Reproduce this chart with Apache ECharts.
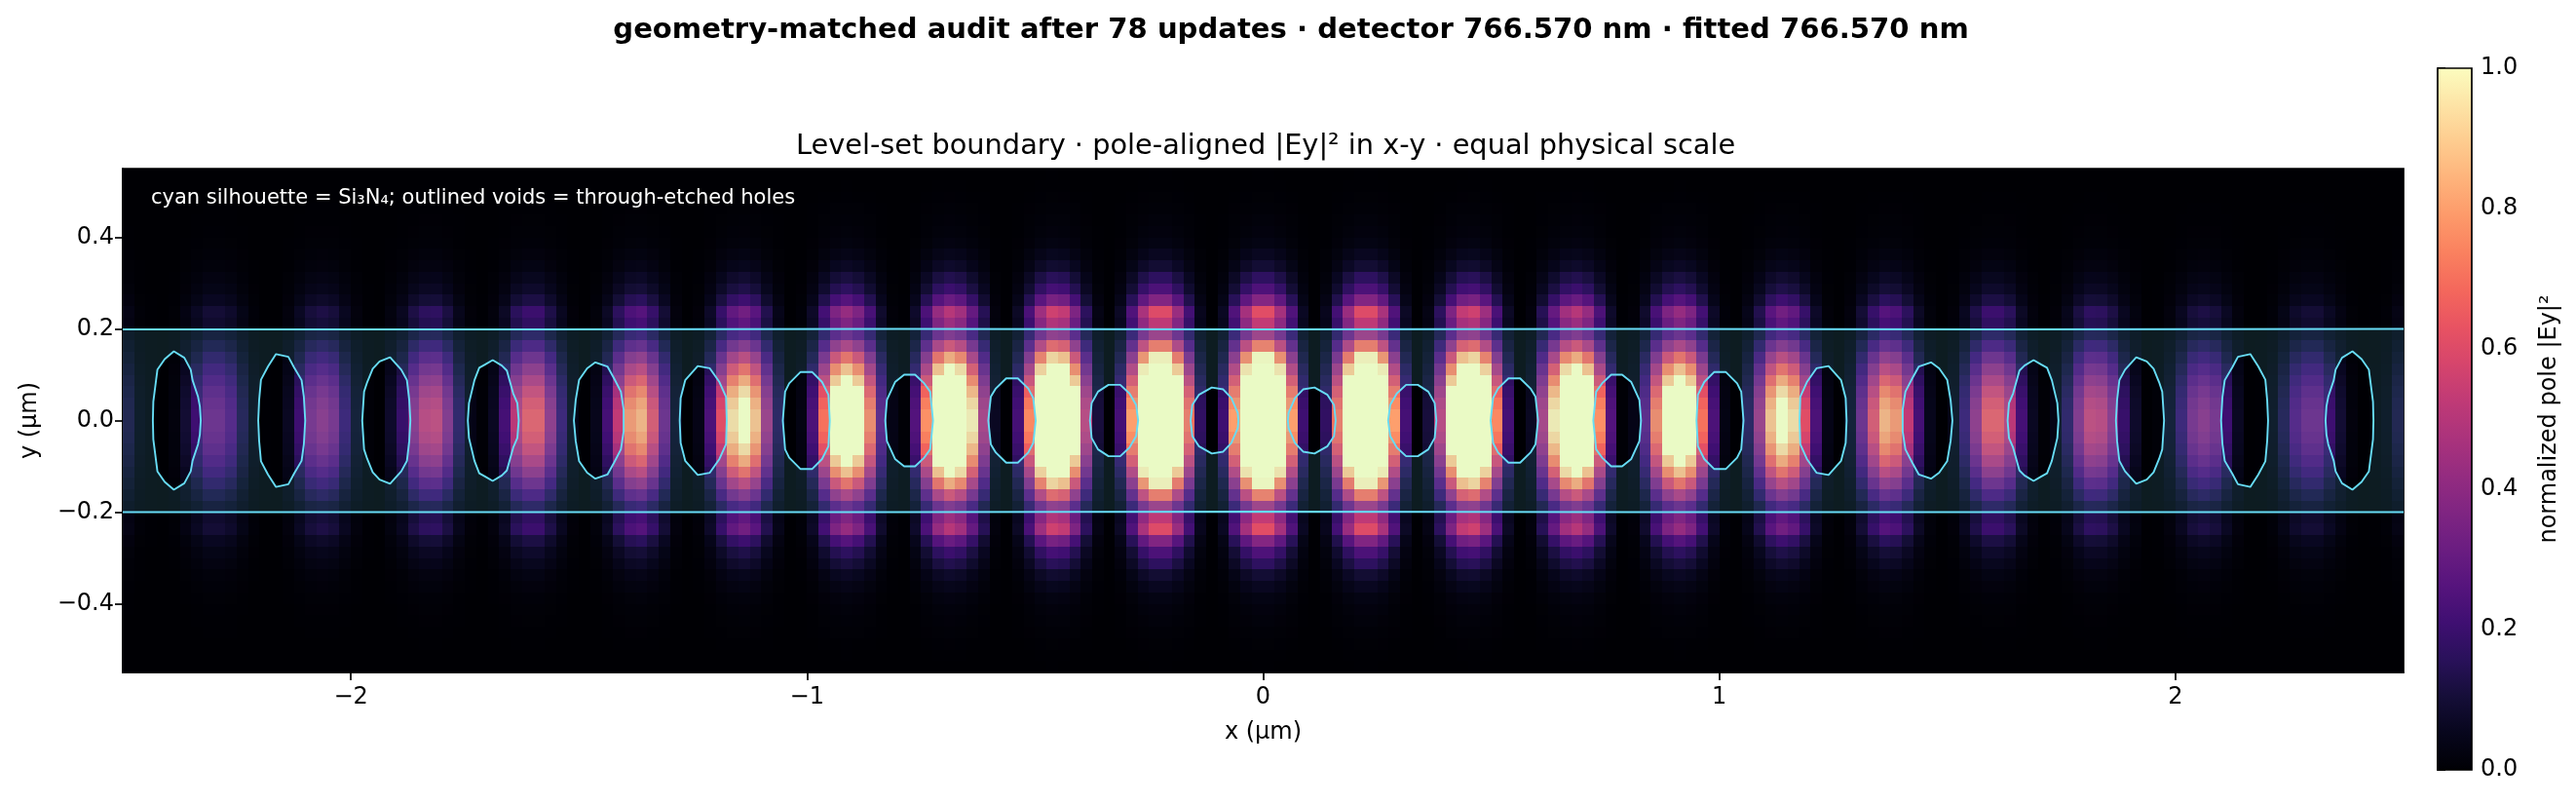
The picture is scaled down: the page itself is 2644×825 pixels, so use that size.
<!DOCTYPE html>
<html>
<head>
<meta charset="utf-8">
<style>html,body{margin:0;padding:0;background:#fff}#c{width:2644px;height:825px}</style>
<script src="https://cdn.jsdelivr.net/npm/echarts@6/dist/echarts.min.js"></script>
</head>
<body>
<div id="c"></div>
<script>
const figTitle = 'geometry-matched audit after 78 updates · detector 766.570 nm · fitted 766.570 nm';
const axesTitle = 'Level-set boundary · pole-aligned |Ey|² in x-y · equal physical scale';
const note = 'cyan silhouette = Si₃N₄; outlined voids = through-etched holes';
const xTicks = [-2, -1, 0, 1, 2];
const yTicks = [-0.4, -0.2, 0, 0.2, 0.4];
const magma = ['#000004','#07061C','#150E38','#29115A','#3F0F72','#56147D','#6B1D81','#802582','#952C80','#AB337C','#C03A76','#D6456C','#E85362','#F4685C','#FA815F','#FD9A6A','#FEB37B','#FECC8F','#FDE4A6','#FCFDBF'];

// Intensity read along the row just above the waveguide (y≈0.24), left half, x = -2.5 → 0, cell width 0.025 µm
const columnReadings = [
 .035,.008,.002,.000,.006,.030,.065,.100,.100,.080,
 .040,.010,.001,.000,.020,.065,.110,.125,.110,.060,
 .020,.003,.000,.025,.060,.125,.165,.170,.120,.050,
 .012,.002,.020,.070,.160,.200,.200,.130,.060,.012,
 .000,.016,.070,.165,.240,.260,.190,.100,.020,.000,
 .012,.075,.190,.290,.330,.270,.140,.045,.000,.010,
 .075,.220,.360,.420,.360,.230,.085,.012,.002,.080,
 .240,.420,.500,.450,.300,.150,.020,.000,.070,.235,
 .440,.560,.530,.360,.165,.035,.000,.070,.250,.470,
 .600,.600,.430,.220,.055,.000,.065,.250,.460,.610];
// Relative level of each row, top edge (y=0.55) → centre (y=0), relative to the row above
const rowReadings = [.002,.003,.008,.016,.025,.035,.055,.10,.16,.28,.40,.62,1,.87,.75,1.17,1.62,2.05,2.45,2.8,3.05,3.2];

// Hole outlines, upper half, left-hand side, in µm [x, y]
const hole01 = [[-2.434,0],[-2.433,.041],[-2.424,.111],[-2.408,.134],[-2.388,.151],[-2.365,.137],[-2.351,.111],[-2.347,.088],[-2.335,.052],[-2.331,.031],[-2.329,0]];
const hole02 = [[-2.203,0],[-2.201,.045],[-2.197,.089],[-2.1815,.118],[-2.164,.145],[-2.137,.139],[-2.1245,.116],[-2.108,.088],[-2.103,.052],[-2.1,0]];
const hole03 = [[-1.975,0],[-1.971,.063],[-1.964,.084],[-1.952,.113],[-1.937,.129],[-1.914,.138],[-1.8895,.111],[-1.877,.088],[-1.872,.045],[-1.8695,0]];
const hole04 = [[-1.7435,0],[-1.741,.038],[-1.729,.088],[-1.7185,.115],[-1.706,.122],[-1.689,.132],[-1.669,.12],[-1.658,.109],[-1.644,.059],[-1.635,.038],[-1.632,0]];
const hole05 = [[-1.511,0],[-1.507,.045],[-1.4995,.089],[-1.482,.114],[-1.464,.127],[-1.4375,.118],[-1.423,.092],[-1.408,.063],[-1.402,.024],[-1.402,0]];
const hole06 = [[-1.279,0],[-1.277,.049],[-1.267,.088],[-1.2395,.119],[-1.213,.114],[-1.192,.084],[-1.1775,.052],[-1.176,0]];
const hole07 = [[-1.053,0],[-1.048,.063],[-1.039,.081],[-1.014,.106],[-.989,.106],[-.967,.084],[-.953,.056],[-.95,0]];
const hole08 = [[-.8284,0],[-.8248,.045],[-.807,.084],[-.787,.1],[-.763,.1],[-.743,.081],[-.73,.063],[-.7237,0]];
const hole09 = [[-.6026,0],[-.597,.052],[-.586,.07],[-.5634,.092],[-.5378,.092],[-.515,.07],[-.504,.049],[-.4986,0]];
const hole10 = [[-.3797,0],[-.376,.038],[-.362,.063],[-.339,.078],[-.3134,.078],[-.293,.059],[-.2785,.034],[-.274,0]];
const hole11 = [[-.159,0],[-.1553,.034],[-.141,.056],[-.1126,.072],[-.0876,.068],[-.0698,.049],[-.0556,.016],[-.0542,0]];
const leftHoles = [hole01,hole02,hole03,hole04,hole05,hole06,hole07,hole08,hole09,hole10,hole11];
const guideTop = [[-2.5,.199],[-1.6,.199],[-.8,.2],[0,.199],[.8,.2],[1.6,.199],[2.5,.2]];
const guideBottom = [[-2.5,-.2],[-1.6,-.2],[-.8,-.2],[0,-.199],[.8,-.2],[1.6,-.2],[2.5,-.2]];

const CELL = 0.025;
const XMIN = -2.5, YMAX = 0.55;
const NX = columnReadings.length * 2, NY = rowReadings.length * 2;
const cells = [];
for (let j = 0; j < NY; j++) {
  const rowLevel = rowReadings[j < NY / 2 ? j : NY - 1 - j];
  for (let i = 0; i < NX; i++) {
    const colLevel = columnReadings[i < NX / 2 ? i : NX - 1 - i];
    cells.push([XMIN + (i + .5) * CELL, YMAX - (j + .5) * CELL, Math.min(1, rowLevel * colLevel)]);
  }
}

// full ordered hole list (left to right) with their upper arcs running left → right
const upperArcs = leftHoles.concat(leftHoles.slice().reverse().map(h => h.slice().reverse().map(p => [-p[0], p[1]])));
const lowerArc = h => h.slice().reverse().map(p => [p[0], -p[1]]);
const closedHoles = upperArcs.map(h => h.concat(lowerArc(h).slice(1)));
const outerLoop = guideTop.concat(guideBottom.slice().reverse());

const OUTLINE = '#67dcf5';
const FONT = 'DejaVu Sans';
const outlineSeries = closedHoles.concat([guideTop, guideBottom]).map(pts => ({
  type: 'line', xAxisIndex: 0, yAxisIndex: 0, data: pts, symbol: 'none', silent: true, z: 5,
  lineStyle: {color: OUTLINE, width: 1.9}
}));
const snap = v => Math.round(Number(v.toFixed(3)));

const chart = echarts.init(document.getElementById('c'), null, {renderer: 'canvas'});
chart.setOption({
  animation: false,
  backgroundColor: '#fff',
  textStyle: {fontFamily: FONT},
  title: [
    {text: figTitle, left: 1320, top: 12, textAlign: 'center', textStyle: {fontFamily: FONT, fontWeight: 'bold', fontSize: 29.1, color: '#000'}},
    {text: axesTitle, left: 1294, top: 131, textAlign: 'center', textStyle: {fontFamily: FONT, fontWeight: 'normal', fontSize: 28.8, color: '#000'}},
    {text: note, left: 150, top: 188.5, textStyle: {fontFamily: FONT, fontWeight: 'normal', fontSize: 21, color: '#fff'}}
  ],
  grid: [
    {left: 126, right: 177, top: 173, bottom: 135, show: true, borderColor: '#000', borderWidth: 1.7, backgroundColor: '#000'},
    {left: 2502, width: 35, top: 70, height: 720, show: false}
  ],
  xAxis: [
    {type: 'value', gridIndex: 0, min: -2.5, max: 2.5, name: 'x (µm)', nameLocation: 'middle', nameGap: 50,
     nameTextStyle: {fontFamily: FONT, fontSize: 24, color: '#000'},
     axisLine: {show: true, onZero: false, lineStyle: {color: '#000', width: 1.7}},
     axisTick: {show: true, customValues: xTicks, length: 8, lineStyle: {color: '#000', width: 1.7}},
     axisLabel: {customValues: xTicks, fontFamily: FONT, fontSize: 24, color: '#000', margin: 14, formatter: v => String(v).replace('-', '−')},
     splitLine: {show: false}},
    {type: 'value', gridIndex: 1, min: 0, max: 1, show: false}
  ],
  yAxis: [
    {type: 'value', gridIndex: 0, min: -.55, max: .55, name: 'y (µm)', nameLocation: 'middle', nameGap: 83,
     nameTextStyle: {fontFamily: FONT, fontSize: 24, color: '#000'},
     axisLine: {show: true, onZero: false, lineStyle: {color: '#000', width: 1.7}},
     axisTick: {show: true, customValues: yTicks, length: 8, lineStyle: {color: '#000', width: 1.7}},
     axisLabel: {customValues: yTicks, fontFamily: FONT, fontSize: 24, color: '#000', margin: 9, formatter: v => Number(v).toFixed(1).replace('-', '−')},
     splitLine: {show: false}},
    {type: 'value', gridIndex: 1, min: 0, max: 1, interval: .2, position: 'right', name: 'normalized pole |Ey|²', nameLocation: 'middle', nameGap: 68, nameRotate: 90,
     nameTextStyle: {fontFamily: FONT, fontSize: 24, color: '#000'},
     axisLine: {show: true, lineStyle: {color: '#000', width: 1.7}},
     axisTick: {show: true, length: 8, lineStyle: {color: '#000', width: 1.7}},
     axisLabel: {fontFamily: FONT, fontSize: 24, color: '#000', margin: 9, formatter: v => Number(v).toFixed(1)},
     splitLine: {show: false}}
  ],
  visualMap: [{show: false, type: 'continuous', min: 0, max: 1, dimension: 2, seriesIndex: 0, inRange: {color: magma}}],
  series: [
    {type: 'custom', xAxisIndex: 0, yAxisIndex: 0, data: cells, encode: {x: 0, y: 1}, silent: true, z: 1, clip: true,
     renderItem: (params, api) => {
       const x = api.value(0), y = api.value(1);
       const a = api.coord([x - CELL / 2, y + CELL / 2]);
       const b = api.coord([x + CELL / 2, y - CELL / 2]);
       const l = snap(a[0]), t = snap(a[1]);
       return {type: 'rect', shape: {x: l, y: t, width: snap(b[0]) - l, height: snap(b[1]) - t},
               style: {fill: api.visual('color')}};
     }},
    {type: 'custom', xAxisIndex: 0, yAxisIndex: 0, data: [[0, 0]], silent: true, z: 3, clip: true,
     renderItem: (params, api) => {
       const loop = pts => 'M' + pts.map(p => { const c = api.coord(p); return c[0].toFixed(2) + ' ' + c[1].toFixed(2); }).join('L') + 'Z';
       const pathData = loop(outerLoop) + closedHoles.map(h => loop(h.slice().reverse())).join('');
       const px = outerLoop.map(p => api.coord(p));
       const xs = px.map(c => c[0]), ys = px.map(c => c[1]);
       const x0 = Math.min(...xs), y0 = Math.min(...ys);
       return {type: 'path', shape: {pathData, layout: 'cover', x: x0, y: y0, width: Math.max(...xs) - x0, height: Math.max(...ys) - y0},
               style: {fill: 'rgba(103,232,249,0.12)'}};
     }},
    ...outlineSeries,
    {type: 'custom', xAxisIndex: 1, yAxisIndex: 1, data: [[0, 0]], silent: true, z: 3, clip: false,
     renderItem: (params, api) => {
       const a = api.coord([0, 1]), b = api.coord([1, 0]);
       return {type: 'rect', shape: {x: a[0], y: a[1], width: b[0] - a[0], height: b[1] - a[1]},
         style: {stroke: '#000', lineWidth: 1.7, fill: new echarts.graphic.LinearGradient(0, 1, 0, 0, magma.map((c, k) => ({offset: k / (magma.length - 1), color: c})))}};
     }}
  ]
});
</script>
</body>
</html>
